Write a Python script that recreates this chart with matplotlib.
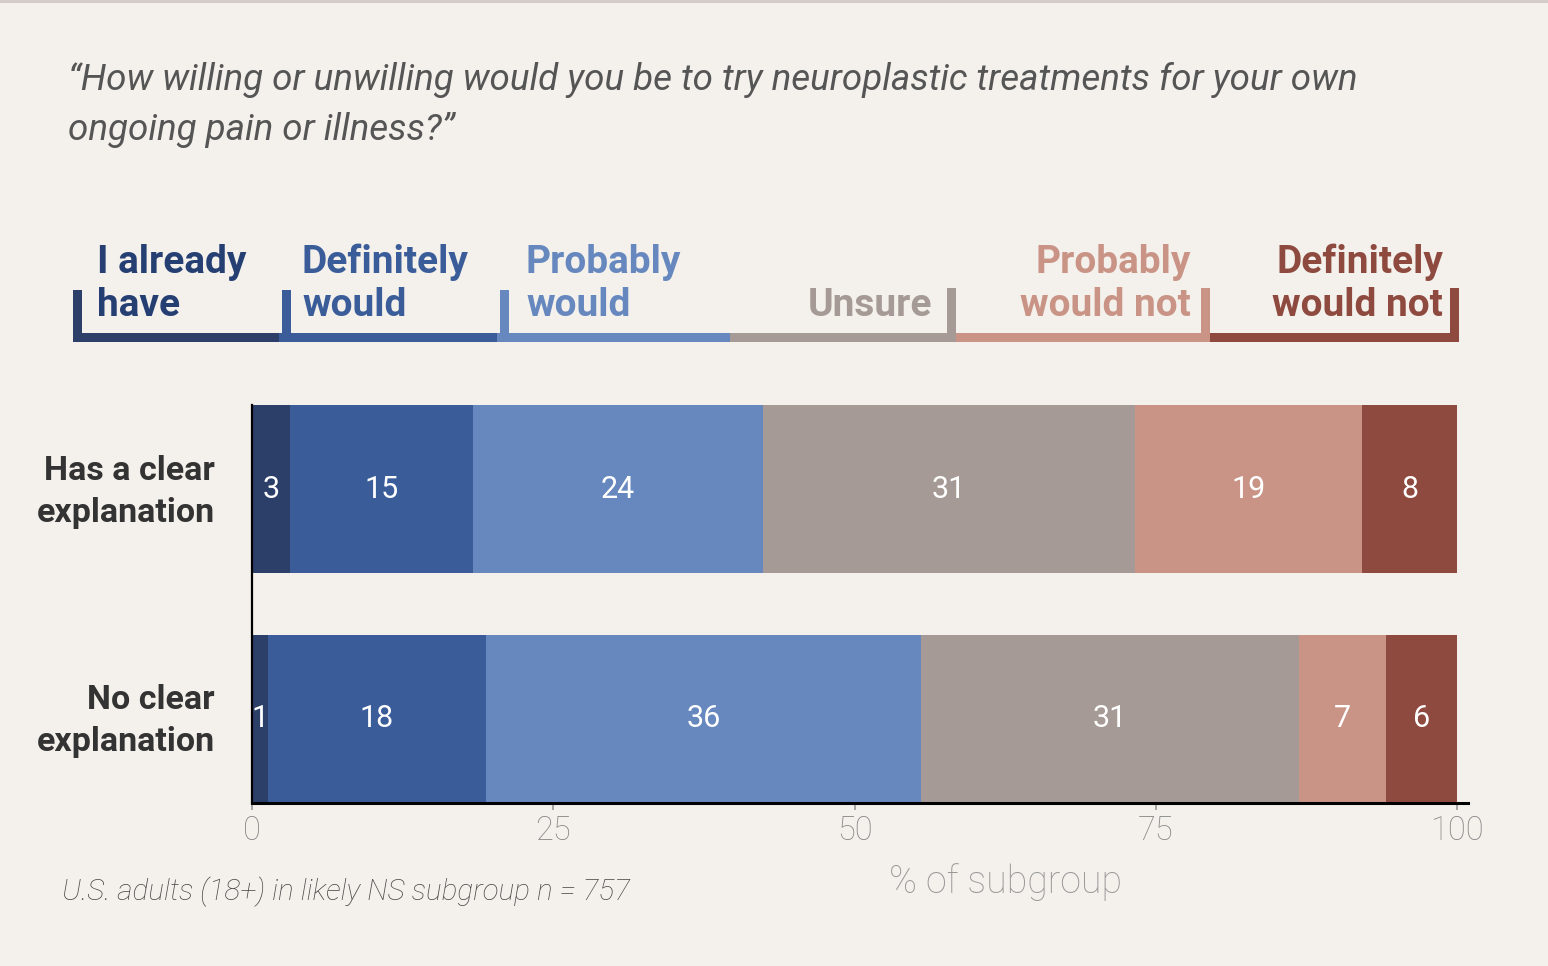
import numpy as np
import matplotlib.pyplot as plt
import matplotlib.transforms as mtransforms

# data (segment widths in % of subgroup)
groups = ["Has a clear\nexplanation", "No clear\nexplanation"]
answers = ["I already\nhave", "Definitely\nwould", "Probably\nwould",
           "Unsure", "Probably\nwould not", "Definitely\nwould not"]
clear_vals = [3.15, 15.15, 24.1, 30.9, 18.8, 7.9]
no_clear_vals = [1.3, 18.1, 36.1, 31.4, 7.2, 5.9]
xticks = [0, 25, 50, 75, 100]

colors = ["#2b3f69", "#3a5d9a", "#6688be", "#a59a95", "#c99486", "#8e4a3e"]
label_colors = ["#253f73", "#3a5d9a", "#6688be", "#a59a95", "#c99486", "#8e4a3e"]
BG = "#f4f1ec"

W, H = 1548, 966
plt.rcParams['font.family'] = ['Roboto', 'DejaVu Sans']


def fx(px):
    return px / W


def fy(py):
    return 1 - py / H


fig = plt.figure(figsize=(W / 100, H / 100), dpi=100, facecolor=BG)

# top border line
fig.add_artist(plt.Line2D([0, 1], [fy(1), fy(1)], color="#d3ccc8", lw=2.2,
                          transform=fig.transFigure))

# title
fig.text(fx(68), fy(80), "\u201cHow willing or unwilling would you be to try neuroplastic treatments for your own",
         fontsize=26.5, style='italic', color="#555555", va='center', ha='left')
fig.text(fx(68), fy(130), "ongoing pain or illness?\u201d",
         fontsize=26.5, style='italic', color="#555555", va='center', ha='left')

# axes
ax = fig.add_axes([fx(252), fy(803), fx(1468 - 252), (803 - 405) / H])
ax.set_facecolor(BG)

rows = [clear_vals, no_clear_vals]
ypos = np.arange(len(groups))
bar_h = 0.734
for yi, vals in zip(ypos, rows):
    left = 0
    for j, v in enumerate(vals):
        ax.barh(yi, v, left=left, height=bar_h, color=colors[j], edgecolor='none')
        ax.text(left + v / 2, yi, f"{v:.0f}", color='white', fontsize=22,
                ha='center', va='center')
        left += v

ax.set_ylim(len(groups) - 1 + bar_h / 2, -bar_h / 2)
ax.set_xlim(0, 100.9)
ax.set_yticks(ypos)
ax.set_yticklabels(groups, fontsize=24.5, fontweight='bold', color="#333333",
                   linespacing=1.4)
ax.tick_params(axis='y', length=0, pad=27)
shift_up = mtransforms.ScaledTranslation(0, 6 / 100, fig.dpi_scale_trans)
for lbl in ax.get_yticklabels():
    lbl.set_transform(lbl.get_transform() + shift_up)
ax.set_xticks(xticks)
ax.set_xticklabels([str(t) for t in xticks], fontsize=23.5, fontweight='light',
                   color="#888888")
ax.tick_params(axis='x', length=5, width=1.2, color="#999999", pad=4)
for s in ['top', 'right']:
    ax.spines[s].set_visible(False)
ax.spines['bottom'].set_linewidth(2.2)
ax.spines['bottom'].set_color('black')
ax.spines['left'].set_linewidth(1.6)
ax.spines['left'].set_color('black')

fig.text(fx(1005), fy(882), "% of subgroup", fontsize=27, fontweight='light',
         color="#999999", ha='center', va='center')
fig.text(fx(62), fy(892), "U.S. adults (18+) in likely NS subgroup n = 757",
         fontsize=21.3, style='italic', fontweight='light', color="#4a4a4a",
         ha='left', va='center')

# bracket legend across the top
edges = [73, 279, 497, 730, 956, 1210, 1459]
text_off = [24, 23, 29, 24, 19, 16]
tick_w = 9
line_y = 337
tick_top = 290
for j, lab in enumerate(answers):
    x0, x1 = edges[j], edges[j + 1]
    c = colors[j]
    fig.add_artist(plt.Rectangle((fx(x0), fy(line_y + 4.5)), fx(x1 - x0), 9 / H,
                                 color=c, transform=fig.transFigure, lw=0))
    if j < 3:
        tx0 = x0 + (3 if j else 0)
        fig.add_artist(plt.Rectangle((fx(tx0), fy(line_y + 4.5)), fx(tick_w),
                                     (line_y + 4.5 - tick_top) / H, color=c,
                                     transform=fig.transFigure, lw=0))
        fig.text(fx(x0 + text_off[j]), fy(324), lab, fontsize=28,
                 fontweight='bold', color=label_colors[j], ha='left', va='bottom',
                 linespacing=1.2)
    else:
        tx0 = x1 - tick_w
        fig.add_artist(plt.Rectangle((fx(tx0), fy(line_y + 4.5)), fx(tick_w),
                                     (line_y + 4.5 - tick_top + 2) / H, color=c,
                                     transform=fig.transFigure, lw=0))
        fig.text(fx(x1 - text_off[j]), fy(324), lab, fontsize=28, fontweight='bold',
                 color=label_colors[j], ha='right', va='bottom', linespacing=1.2,
                 multialignment='right')

fig.savefig("out.png", dpi=100, facecolor=BG)
